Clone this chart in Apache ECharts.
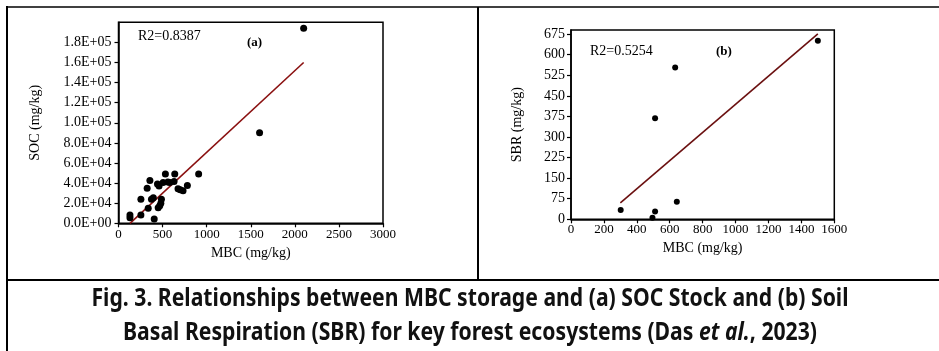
<!DOCTYPE html>
<html><head><meta charset="utf-8">
<script src="https://cdn.jsdelivr.net/npm/echarts@6/dist/echarts.min.js"></script>
<style>html,body{margin:0;padding:0;background:#fff}#c{width:939px;height:351px}</style>
</head><body><div id="c"></div>
<script>
// Panel (a): MBC vs SOC
const mbcA = [2100, 1600, 532, 638, 909, 356, 442, 506, 581, 630, 325, 675, 732, 781, 460, 254, 374, 487, 395, 468, 480, 337, 450, 130, 254, 130, 405, 700, 560];
const socA = [194000, 90000, 49000, 49000, 49000, 42600, 39000, 40500, 40500, 41500, 35000, 34500, 32500, 37500, 37000, 24000, 24000, 24000, 25500, 17500, 20000, 15000, 15500, 8300, 8300, 5600, 4300, 33500, 41000];
const fitA_mbc = [130, 2100];
const fitA_soc = [0, 160000];
const xTicksA = [0, 500, 1000, 1500, 2000, 2500, 3000];
const yTicksA = [0, 20000, 40000, 60000, 80000, 100000, 120000, 140000, 160000, 180000];

// Panel (b): MBC vs SBR
const mbcB = [302, 495, 511, 511, 643, 633, 1500];
const sbrB = [34, 6, 28, 368, 64, 553, 651];
const fitB_mbc = [300, 1500];
const fitB_sbr = [60, 676];
const xTicksB = [0, 200, 400, 600, 800, 1000, 1200, 1400, 1600];
const yTicksB = [0, 75, 150, 225, 300, 375, 450, 525, 600, 675];

const r2A = 'R2=0.8387', r2B = 'R2=0.5254';
const cap1 = 'Fig. 3. Relationships between MBC storage and (a) SOC Stock and (b) Soil';
const cap2a = 'Basal Respiration (SBR) for key forest ecosystems (Das ', cap2b = 'et al.', cap2c = ', 2023)';

const SERIF = "'Liberation Serif','Times New Roman',serif";
const CAPF = "'Noto Sans',sans-serif";
const CAPFS = 25;

function sci(v){
  if (v === 0) return '0.0E+00';
  const e = Math.floor(Math.log10(v));
  const m = v / Math.pow(10, e);
  return m.toFixed(1) + 'E+' + String(e).padStart(2, '0');
}
function plain(v){ return String(v); }
function zip(a, b){ return a.map((v, i) => [v, b[i]]); }

// horizontal squeeze so the caption spans the same width as the reference
const ctx = document.createElement('canvas').getContext('2d');
ctx.font = 'bold ' + CAPFS + 'px ' + CAPF;
const capScale = 757 / ctx.measureText(cap1).width;

const axisCommon = {
  axisLine: {show: true, onZero: false, lineStyle: {color: '#000', width: 1.5}},
  axisTick: {show: true, inside: false, length: 4, lineStyle: {color: '#000', width: 1.2}},
  splitLine: {show: false},
  nameLocation: 'middle',
  nameTextStyle: {fontFamily: SERIF, fontSize: 14, color: '#000'},
};
const labelCommon = {fontFamily: SERIF, fontSize: 13, color: '#000'};

const chart = echarts.init(document.getElementById('c'), null, {renderer: 'canvas'});
chart.setOption({
  animation: false,
  backgroundColor: '#fff',
  grid: [
    {left: 118.5, top: 22.3, width: 264.5, height: 201, show: true, borderColor: '#000', borderWidth: 1.5, backgroundColor: 'transparent'},
    {left: 571, top: 30, width: 263.3, height: 189.3, show: true, borderColor: '#000', borderWidth: 1.5, backgroundColor: 'transparent'}
  ],
  xAxis: [
    Object.assign({}, axisCommon, {gridIndex: 0, type: 'value', min: 0, max: 3000, name: 'MBC (mg/kg)', nameGap: 22,
      axisTick: Object.assign({}, axisCommon.axisTick, {customValues: xTicksA}),
      axisLabel: Object.assign({}, labelCommon, {customValues: xTicksA, margin: 5, formatter: plain})}),
    Object.assign({}, axisCommon, {gridIndex: 1, type: 'value', min: 0, max: 1600, name: 'MBC (mg/kg)', nameGap: 21,
      axisTick: Object.assign({}, axisCommon.axisTick, {customValues: xTicksB}),
      axisLabel: Object.assign({}, labelCommon, {customValues: xTicksB, margin: 4, formatter: plain})})
  ],
  yAxis: [
    Object.assign({}, axisCommon, {gridIndex: 0, type: 'value', min: 0, max: 200000, name: 'SOC (mg/kg)', nameGap: 76,
      axisTick: Object.assign({}, axisCommon.axisTick, {customValues: yTicksA}),
      axisLabel: Object.assign({}, labelCommon, {fontSize: 14, customValues: yTicksA, margin: 7, formatter: sci})}),
    Object.assign({}, axisCommon, {gridIndex: 1, type: 'value', min: 0, max: 690, name: 'SBR (mg/kg)', nameGap: 47,
      axisTick: Object.assign({}, axisCommon.axisTick, {customValues: yTicksB}),
      axisLabel: Object.assign({}, labelCommon, {fontSize: 14, customValues: yTicksB, margin: 6, formatter: plain})})
  ],
  series: [
    {type: 'line', xAxisIndex: 0, yAxisIndex: 0, data: zip(fitA_mbc, fitA_soc), showSymbol: false, symbol: 'none',
      lineStyle: {color: '#8a1010', width: 1.6}, z: 2},
    {type: 'scatter', xAxisIndex: 0, yAxisIndex: 0, data: zip(mbcA, socA), symbolSize: 7,
      itemStyle: {color: '#000', opacity: 1}, z: 3},
    {type: 'line', xAxisIndex: 1, yAxisIndex: 1, data: zip(fitB_mbc, fitB_sbr), showSymbol: false, symbol: 'none',
      lineStyle: {color: '#6b1010', width: 1.6}, z: 2},
    {type: 'scatter', xAxisIndex: 1, yAxisIndex: 1, data: zip(mbcB, sbrB), symbolSize: 6,
      itemStyle: {color: '#000', opacity: 1}, z: 3}
  ],
  graphic: [
    {type: 'line', shape: {x1: 7, y1: 7, x2: 939, y2: 7}, style: {stroke: '#000', lineWidth: 1.5}},
    {type: 'line', shape: {x1: 7, y1: 6, x2: 7, y2: 351}, style: {stroke: '#000', lineWidth: 2}},
    {type: 'line', shape: {x1: 478, y1: 7, x2: 478, y2: 280}, style: {stroke: '#000', lineWidth: 2}},
    {type: 'line', shape: {x1: 7, y1: 280, x2: 939, y2: 280}, style: {stroke: '#000', lineWidth: 2}},
    {type: 'text', left: 138, top: 29, style: {text: r2A, font: '14px ' + SERIF, fill: '#000'}},
    {type: 'text', left: 247, top: 36, style: {text: '(a)', font: 'bold 13px ' + SERIF, fill: '#000'}},
    {type: 'text', left: 590, top: 44, style: {text: r2B, font: '14px ' + SERIF, fill: '#000'}},
    {type: 'text', left: 716, top: 45, style: {text: '(b)', font: 'bold 13px ' + SERIF, fill: '#000'}},
    {type: 'text', x: 470, y: 299, scaleX: capScale, style: {x: 0, y: 0, text: cap1, font: 'bold ' + CAPFS + 'px ' + CAPF, fill: '#111', align: 'center', verticalAlign: 'middle'}},
    {type: 'text', x: 470, y: 333, scaleX: capScale, style: {
      x: 0, y: 0,
      text: '{n|' + cap2a + '}{i|' + cap2b + '}{n|' + cap2c + '}',
      align: 'center', verticalAlign: 'middle', fill: '#111',
      rich: {
        n: {fontFamily: CAPF, fontWeight: 'bold', fontSize: CAPFS, fill: '#111'},
        i: {fontFamily: CAPF, fontWeight: 'bold', fontStyle: 'italic', fontSize: CAPFS, fill: '#111'}
      }}}
  ]
});
</script></body></html>
